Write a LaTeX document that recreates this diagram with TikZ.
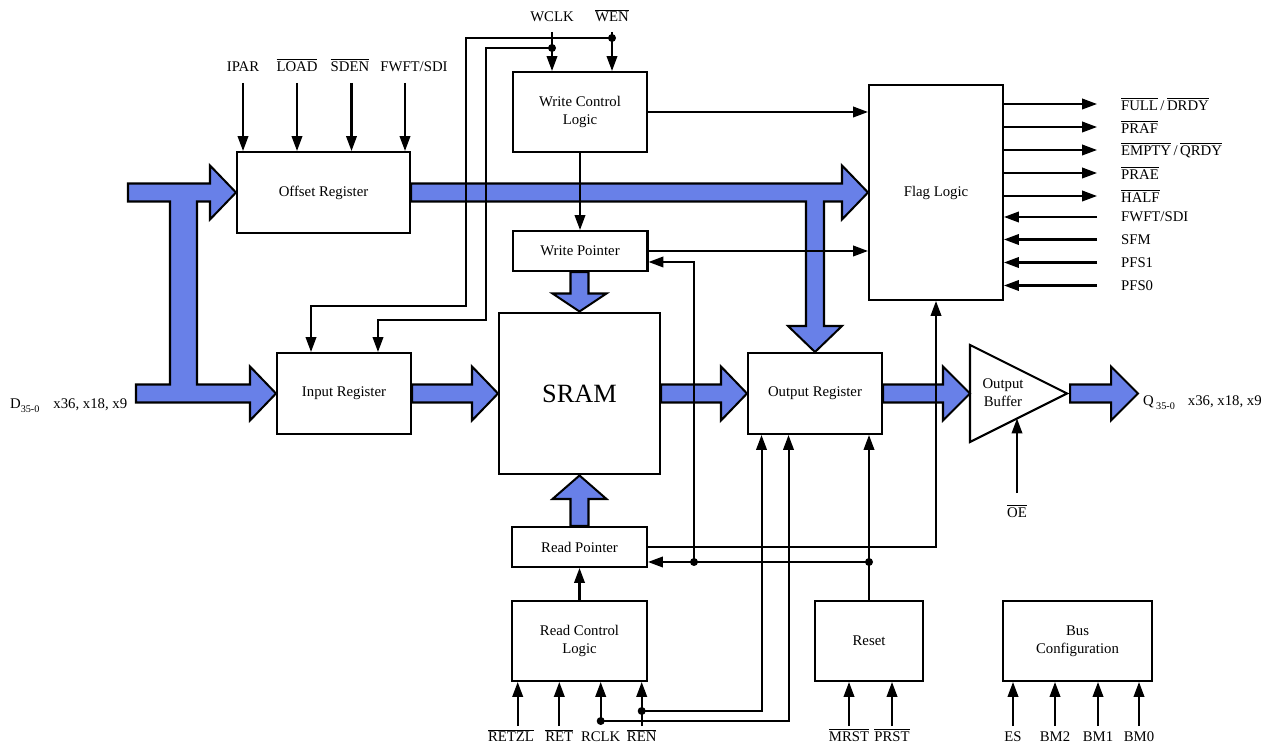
\documentclass[tikz,border=0pt]{standalone}
\usepackage{fontspec}
\setmainfont{Liberation Serif}
\usetikzlibrary{arrows.meta,positioning}
\definecolor{busblue}{RGB}{104,128,232}
\newcommand{\nsig}[1]{$\overline{\mbox{#1}}$}

\begin{document}
\begin{tikzpicture}[
    x=0.02cm, y=-0.02cm,
    font=\fontsize{8.4}{10.4}\selectfont,
    block/.style={draw, line width=1.15pt, fill=white, align=center, inner sep=0pt},
    sig/.style={-{Triangle[length=8.5pt, width=6pt]}, line width=1.15pt},
    wire/.style={line width=1.15pt},
    bus/.style={draw, line width=1.15pt, fill=busblue, line join=miter},
    lbl/.style={inner sep=1pt},
    dot/.style={circle, fill, inner sep=0pt, minimum size=0.16cm}
]
    \useasboundingbox (0,0) rectangle (1275,749);

    % blocks
    \node[block, minimum width=3.46cm, minimum height=1.62cm] (offset) at (323.5,192.5) {Offset Register};
    \node[block, minimum width=2.68cm, minimum height=1.62cm] (input) at (344,393.5) {Input Register};
    \node[block, minimum width=3.22cm, minimum height=3.24cm, font=\fontsize{15}{17}\selectfont] (sram) at (579.5,393.5) {SRAM};
    \node[block, minimum width=2.68cm, minimum height=1.62cm] (outreg) at (815,393.5) {Output Register};
    \node[block, minimum width=2.68cm, minimum height=4.30cm] (flag) at (936,192.5) {Flag Logic};
    \node[block, minimum width=2.68cm, minimum height=1.60cm] (wcl) at (580,112) {Write Control\\Logic};
    \node[block, minimum width=2.70cm, minimum height=0.80cm, below=1.54cm of wcl] (wptr) {Write Pointer};
    \node[block, minimum width=2.70cm, minimum height=1.60cm] (rcl) at (579.5,641) {Read Control\\Logic};
    \node[block, minimum width=2.70cm, minimum height=0.80cm, above=0.64cm of rcl] (rptr) {Read Pointer};
    \node[block, minimum width=2.16cm, minimum height=1.60cm] (reset) at (869,641) {Reset};
    \node[block, minimum width=2.98cm, minimum height=1.60cm] (buscfg) at (1077.5,641) {Bus\\Configuration};

    % output buffer
    \draw[wire, fill=white] (970,345) -- (1067,393.5) -- (970,442) -- cycle;
    \node[align=center] (buf) at (1003,393) {Output\\Buffer};
    \coordinate (bufin) at (970,393.5);
    \coordinate (bufout) at (1070,393.5);
    \coordinate (bufoe) at (1017,418.5);

    % wide data paths
    \draw[bus] (128,183.5) -- (210,183.5) -- (210,165.5) -- (offset.west) -- (210,219.5) -- (210,201.5)
        -- (197,201.5) -- (197,384.5) -- (250,384.5) -- (250,366.5) -- (input.west) -- (250,420.5)
        -- (250,402.5) -- (136,402.5) -- (136,384.5) -- (170,384.5) -- (170,201.5) -- (128,201.5) -- cycle;
    \draw[bus] (offset.east |- 0,183.5) -- (842,183.5) -- (842,165.5) -- (flag.west) -- (842,219.5) -- (842,201.5)
        -- (824,201.5) -- (824,326) -- (842,326) -- (outreg.north) -- (788,326) -- (806,326)
        -- (806,201.5) -- (offset.east |- 0,201.5) -- cycle;
    \draw[bus] (input.east |- 0,384.5) -- (472,384.5) -- (472,366.5) -- (sram.west) -- (472,420.5) -- (472,402.5) -- (input.east |- 0,402.5) -- cycle;
    \draw[bus] (sram.east |- 0,384.5) -- (721,384.5) -- (721,366.5) -- (outreg.west) -- (721,420.5) -- (721,402.5) -- (sram.east |- 0,402.5) -- cycle;
    \draw[bus] (outreg.east |- 0,384.5) -- (943,384.5) -- (943,366.5) -- (bufin) -- (943,420.5) -- (943,402.5) -- (outreg.east |- 0,402.5) -- cycle;
    \coordinate (qtip) at (1138,393.5);
    \draw[bus] (bufout |- 0,384.5) -- (1111,384.5) -- (1111,366.5) -- (qtip) -- (1111,420.5) -- (1111,402.5) -- (bufout |- 0,402.5) -- cycle;
    \draw[bus] (570.5,0 |- wptr.south) -- (570.5,293.5) -- (552.5,293.5) -- (sram.north) -- (606.5,293.5) -- (588.5,293.5) -- (588.5,0 |- wptr.south) -- cycle;
    \draw[bus] (570.5,0 |- rptr.north) -- (570.5,499) -- (552.5,499) -- (sram.south) -- (606.5,499) -- (588.5,499) -- (588.5,0 |- rptr.north) -- cycle;

    % offset register inputs
    \node[lbl, anchor=base] (ipar) at (243,72) {IPAR};
    \node[lbl, anchor=base] (load) at (297,72) {\nsig{LOAD}};
    \node[lbl, anchor=base] (sden) at (350,72) {\nsig{SDEN}};
    \node[lbl, anchor=base] (fwfttop) at (414,72) {FWFT/SDI};
    \draw[sig] ([yshift=-0.22cm]ipar.base) -- (ipar.base |- offset.north);
    \draw[sig] ([yshift=-0.22cm]load.base) -- (load.base |- offset.north);
    \draw[sig] ([xshift=0.03cm,yshift=-0.22cm]sden.base) -- ([xshift=0.03cm]sden.base |- offset.north);
    \draw[sig] ([xshift=-0.18cm,yshift=-0.22cm]fwfttop.base) -- ([xshift=-0.18cm]fwfttop.base |- offset.north);

    % write side
    \node[lbl, anchor=base] (wclk) at (552,22) {WCLK};
    \node[lbl, anchor=base] (wen) at (612,22) {\nsig{WEN}};
    \draw[sig] ([yshift=-0.2cm]wclk.base) -- (wclk.base |- wcl.north);
    \draw[sig] ([yshift=-0.2cm]wen.base) -- (wen.base |- wcl.north);
    \coordinate (wendot) at (612,38);
    \coordinate (wclkdot) at (552,48);
    \draw[sig] (wendot) -| (466,306) -| ([xshift=-0.66cm]input.north);
    \draw[sig] (wclkdot) -| (486,320) -| ([xshift=0.68cm]input.north);
    \node[dot] (d1) at (wendot) {};
    \node[dot] (d2) at (wclkdot) {};
    \draw[sig] (wcl.east) -- (wcl.east -| flag.west);
    \draw[sig] (wcl.south) -- (wcl.south |- wptr.north);
    \draw[sig] (wptr.east) -- (wptr.east -| flag.west);

    % flag outputs and inputs
    \node[lbl, anchor=west] (full) at (1119,104) {\nsig{FULL}\,/\,\nsig{DRDY}};
    \node[lbl, anchor=west] (praf) at (1119,127) {\nsig{PRAF}};
    \node[lbl, anchor=west] (empty) at (1119,150) {\nsig{EMPTY}\,/\,\nsig{QRDY}};
    \node[lbl, anchor=west] (prae) at (1119,173) {\nsig{PRAE}};
    \node[lbl, anchor=west] (half) at (1119,196) {\nsig{HALF}};
    \node[lbl, anchor=west] (fwft) at (1119,217) {FWFT/SDI};
    \node[lbl, anchor=west] (sfm) at (1119,239.5) {SFM};
    \node[lbl, anchor=west] (pfs1) at (1119,262.5) {PFS1};
    \node[lbl, anchor=west] (pfs0) at (1119,285.5) {PFS0};
    \draw[sig] (flag.east |- full.west) -- ([xshift=-0.44cm]full.west);
    \draw[sig] (flag.east |- praf.west) -- ([xshift=-0.44cm]praf.west);
    \draw[sig] (flag.east |- empty.west) -- ([xshift=-0.44cm]empty.west);
    \draw[sig] (flag.east |- prae.west) -- ([xshift=-0.44cm]prae.west);
    \draw[sig] (flag.east |- half.west) -- ([xshift=-0.44cm]half.west);
    \draw[sig] ([xshift=-0.44cm]fwft.west) -- (flag.east |- fwft.west);
    \draw[sig] ([xshift=-0.44cm]sfm.west) -- (flag.east |- sfm.west);
    \draw[sig] ([xshift=-0.44cm]pfs1.west) -- (flag.east |- pfs1.west);
    \draw[sig] ([xshift=-0.44cm]pfs0.west) -- (flag.east |- pfs0.west);

    % read side
    \draw[sig] (rcl.north) -- (rptr.south);
    \draw[sig] (rptr.east) -| (flag.south);
    \coordinate (rsdot) at (869,562);
    \coordinate (wpdot) at (694,562);
    \draw[sig] (reset.north) -- (reset.north |- outreg.south);
    \draw[sig] (rsdot) -- (rptr.east |- rsdot);
    \draw[sig] (wpdot) |- ([yshift=-0.22cm]wptr.east);
    \node[dot] (d3) at (rsdot) {};
    \node[dot] (d4) at (wpdot) {};

    \node[lbl, anchor=base] (retzl) at (511,742) {\nsig{RETZL}};
    \node[lbl, anchor=base] (ret) at (559.3,742) {\nsig{RET}};
    \node[lbl, anchor=base] (rclk) at (600.7,741) {RCLK};
    \node[lbl, anchor=base] (ren) at (641.7,742) {\nsig{REN}};
    \draw[sig] ([xshift=0.134cm,yshift=0.32cm]retzl.base) -- ([xshift=0.134cm]retzl.base |- rcl.south);
    \draw[sig] ([yshift=0.32cm]ret.base) -- (ret.base |- rcl.south);
    \draw[sig] ([yshift=0.34cm]rclk.base) -- (rclk.base |- rcl.south);
    \draw[sig] ([yshift=0.32cm]ren.base) -- (ren.base |- rcl.south);
    \coordinate (rendot) at (641.7,711);
    \coordinate (rclkdot) at (600.7,721);
    \draw[sig] (rendot) -| ([xshift=-1.07cm]outreg.south);
    \draw[sig] (rclkdot) -| ([xshift=-0.53cm]outreg.south);
    \node[dot] (d5) at (rendot) {};
    \node[dot] (d6) at (rclkdot) {};

    % reset and bus configuration inputs
    \node[lbl, anchor=base] (mrst) at (849,742) {\nsig{MRST}};
    \node[lbl, anchor=base] (prst) at (892,742) {\nsig{PRST}};
    \draw[sig] ([yshift=0.32cm]mrst.base) -- (mrst.base |- reset.south);
    \draw[sig] ([yshift=0.32cm]prst.base) -- (prst.base |- reset.south);
    \node[lbl, anchor=base] (es) at (1013,742) {ES};
    \node[lbl, anchor=base] (bm2) at (1055,742) {BM2};
    \node[lbl, anchor=base] (bm1) at (1098,742) {BM1};
    \node[lbl, anchor=base] (bm0) at (1139,742) {BM0};
    \draw[sig] ([yshift=0.32cm]es.base) -- (es.base |- buscfg.south);
    \draw[sig] ([yshift=0.32cm]bm2.base) -- (bm2.base |- buscfg.south);
    \draw[sig] ([yshift=0.32cm]bm1.base) -- (bm1.base |- buscfg.south);
    \draw[sig] ([yshift=0.32cm]bm0.base) -- (bm0.base |- buscfg.south);

    % output enable
    \node[lbl, anchor=base] (oe) at (1017,518) {\nsig{OE}};
    \draw[sig] ([yshift=0.5cm]oe.base) -- (bufoe);

    % data labels
    \node[lbl, anchor=base west] (din) at (8,409) {D\raisebox{-0.5ex}{\fontsize{5.8}{6}\selectfont 35-0}\hspace{0.28cm}x36, x18, x9};
    \node[lbl, anchor=base west] (qout) at (1141,406) {Q\,\raisebox{-0.5ex}{\fontsize{5.8}{6}\selectfont 35-0}\hspace{0.26cm}x36, x18, x9};
\end{tikzpicture}
\end{document}
